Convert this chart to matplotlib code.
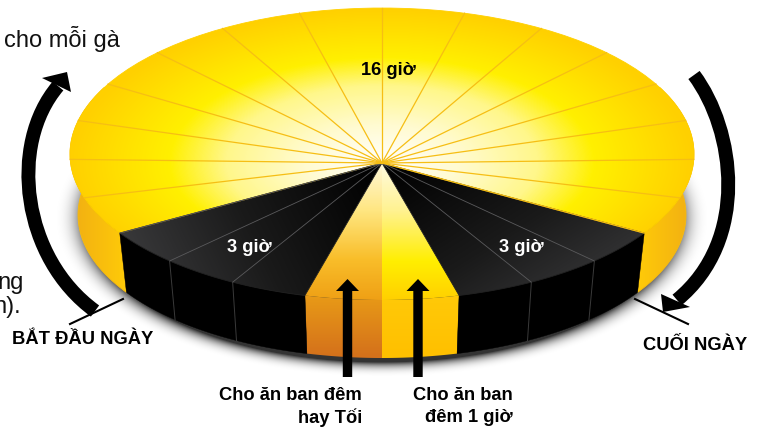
import numpy as np
import matplotlib
matplotlib.use('Agg')
import matplotlib.pyplot as plt
from matplotlib.colors import LinearSegmentedColormap
from matplotlib.patches import Polygon, PathPatch
from matplotlib.path import Path

plt.rcParams['font.family'] = ['Liberation Sans', 'DejaVu Sans']

# Số giờ của từng phần, bắt đầu từ mép trái
period_names = ['Tối 1', 'Ăn đêm 1', 'Ăn đêm 2', 'Tối 2', 'Sáng']
period_hours = [3, 1, 1, 3, 16]
period_labels = ['3 giờ', '', '', '3 giờ', '16 giờ']
arrow_labels = ['Cho ăn ban đêm\nhay Tối', 'Cho ăn ban\nđêm 1 giờ']
day_labels = ['BẮT ĐẦU NGÀY', 'CUỐI NGÀY']

W, H = 763, 428

# Hình học của bánh (toạ độ pixel)
cx = 382
top_cy, top_a, top_b = 154, 312, 146
bot_cy, bot_a, bot_b = 215, 304, 143
apex = (382, 163)
front_step = 14.3   # độ mỗi giờ ở phần trước
back_step = 15.35   # độ mỗi giờ ở phần sau


def hour_angle(h):
    front = sum(period_hours[:4])
    start = -front * front_step / 2
    if h <= front:
        return start + h * front_step
    return start + front * front_step + (h - front) * back_step


def top_rim(t):
    t = np.radians(t)
    return np.c_[cx + top_a * np.sin(t), top_cy + top_b * np.cos(t)]


def bot_rim(t):
    t = np.radians(t)
    return np.c_[cx + bot_a * np.sin(t), bot_cy + bot_b * np.cos(t)]


def wedge(t0, t1):
    rim = top_rim(np.linspace(t0, t1, 80))
    return np.vstack([[apex], rim])


def side(t0, t1):
    ts = np.linspace(t0, t1, 80)
    return np.vstack([top_rim(ts), bot_rim(ts[::-1])])


fig = plt.figure(figsize=(W / 100, H / 100), dpi=100)
ax = fig.add_axes([0, 0, 1, 1])
ax.set_axis_off()

X, Y = np.meshgrid(np.arange(W) + 0.5, np.arange(H) + 0.5)
dx = (X - apex[0]) / top_a
dy = np.where(Y < apex[1], (Y - apex[1]) / 155, (Y - apex[1]) / 137)
R = np.sqrt(dx ** 2 + dy ** 2)


def cmap(*colors):
    return LinearSegmentedColormap.from_list('c', list(colors))


def fill(values, cm, pts, z, edge=None):
    poly = Polygon(pts, closed=True, transform=ax.transData, fc='none', ec='none')
    ax.add_patch(poly)
    im = ax.imshow(values, cmap=cm, vmin=0, vmax=1, extent=(0, W, H, 0),
                   aspect='auto', zorder=z, interpolation='bilinear')
    im.set_clip_path(poly)
    if edge:
        ax.add_patch(Polygon(pts, closed=True, fc='none', ec=edge, lw=0.6, zorder=z + 0.1))


# Bóng dưới bánh
sr = np.sqrt(((X - cx) / (bot_a - 8)) ** 2 + ((Y - (bot_cy + 3)) / (bot_b + 1)) ** 2)
alpha = np.clip((1.12 - sr) / 0.12, 0, 1) ** 3 * 0.8
shadow = np.zeros((H, W, 4))
shadow[..., 3] = alpha
ax.imshow(shadow, extent=(0, W, H, 0), aspect='auto', zorder=1)

edges = np.cumsum([0] + period_hours)
angles = [hour_angle(h) for h in edges]

# Mặt bên
rim_cm = cmap('#FFCB08', '#F0AC14')
side_grad = np.clip((np.abs(X - cx) - 255) / 60, 0, 1)
fill(side_grad, rim_cm, side(angles[4], angles[4] + 60), 2, '#F8BC10')
fill(side_grad, rim_cm, side(angles[0], angles[0] - 60), 2, '#F8BC10')
fill(np.clip((Y - 296) / 60, 0, 1), cmap('#E89A17', '#D4711B'), side(angles[1], angles[2]), 3)
fill(np.clip((Y - 296) / 60, 0, 1), cmap('#FFC908', '#FFC000'), side(angles[2], angles[3]), 3)
ax.add_patch(Polygon(side(angles[0], angles[1]), closed=True, fc='black', ec='black', lw=0.3, zorder=3))
ax.add_patch(Polygon(side(angles[3], angles[4]), closed=True, fc='black', ec='black', lw=0.3, zorder=3))

# Mặt trên
light_cm = LinearSegmentedColormap.from_list('light', [
    (0.0, '#FFFFFF'), (0.25, '#FFFBD0'), (0.5, '#FFF78A'),
    (0.68, '#FFF000'), (1.0, '#FFD000')])
fill(np.clip(R, 0, 1), light_cm, wedge(angles[4], angles[5]), 4, '#FFD000')

dark_cm = cmap('#000000', '#1A1A1A', '#404042')
yn = np.clip(Y - apex[1], 0, None) / 137
dark_left = np.clip(np.abs(X - apex[0]) / 262 * 0.8 + yn * 0.2, 0, 1)
dark_right = np.clip(np.abs(X - apex[0]) / 262 * 0.55 + yn * 0.45, 0, 1)
fill(dark_left, dark_cm, wedge(angles[0], angles[1]), 4, '#202020')
fill(dark_right, dark_cm, wedge(angles[3], angles[4]), 4, '#202020')

feed_t = np.clip((Y - apex[1]) / 137, 0, 1)
fill(feed_t, LinearSegmentedColormap.from_list('f1', [
    (0, '#FFF8D8'), (0.35, '#FFE680'), (0.7, '#F9BE2A'), (1, '#EFA015')]),
    wedge(angles[1], angles[2]), 4)
fill(feed_t, LinearSegmentedColormap.from_list('f2', [
    (0, '#FFFBE0'), (0.35, '#FFF290'), (0.72, '#FFEE00'), (1, '#FFD000')]),
    wedge(angles[2], angles[3]), 4)

# Các vạch giờ
for h in range(sum(period_hours)):
    if edges[4] <= h:
        color, lw = '#F6BE14', 0.9
    elif h < edges[1] or edges[3] < h < edges[4]:
        color, lw = '#5A5A5C', 0.6
    else:
        continue
    p = top_rim(hour_angle(h))[0]
    ax.plot([apex[0], p[0]], [apex[1], p[1]], color=color, lw=lw, zorder=5)
    if color == '#5A5A5C' and h not in (edges[0],):
        q = bot_rim(hour_angle(h))[0]
        ax.plot([p[0], q[0]], [p[1], q[1]], color='#3A3A3A', lw=0.7, zorder=5)

# Mũi tên cong
left_curve = Path([(95, 311), (22, 258), (8, 145), (58, 86)],
                  [Path.MOVETO, Path.CURVE4, Path.CURVE4, Path.CURVE4])
right_curve = Path([(694, 75), (735, 130), (750, 240), (677, 300)],
                   [Path.MOVETO, Path.CURVE4, Path.CURVE4, Path.CURVE4])
for path in (left_curve, right_curve):
    ax.add_patch(PathPatch(path, fc='none', ec='black', lw=10, capstyle='butt', zorder=6))
ax.add_patch(Polygon([(67, 72), (42, 78), (71, 92)], fc='black', ec='none', zorder=6))
ax.add_patch(Polygon([(661, 294), (690, 307), (663, 312)], fc='black', ec='none', zorder=6))
ax.plot([70, 123], [324, 299], color='black', lw=1.5, zorder=6)
ax.plot([635, 688], [299, 324], color='black', lw=1.5, zorder=6)

# Mũi tên thẳng
for xc in (347.5, 418):
    ax.add_patch(Polygon([(xc - 4.7, 377), (xc + 4.7, 377), (xc + 4.7, 291), (xc + 11.5, 291),
                          (xc, 279), (xc - 11.5, 291), (xc - 4.7, 291)],
                         fc='black', ec='none', zorder=7))

# Chữ
bold = dict(fontweight='bold', fontsize=13.2, zorder=8)
ax.text(388, 70, period_labels[4], ha='center', va='center', color='black', **bold)
ax.text(249, 247, period_labels[0], ha='center', va='center', color='white', **bold)
ax.text(521, 247, period_labels[3], ha='center', va='center', color='white', **bold)
ax.text(83, 340, day_labels[0], ha='center', va='center', color='black', **bold)
ax.text(695, 346, day_labels[1], ha='center', va='center', color='black', **bold)
for (line, xr) in zip(arrow_labels, (362, 513)):
    a, b = line.split('\n')
    ax.text(xr, 395, a, ha='right', va='center', color='black', **bold)
    ax.text(xr, 418, b, ha='right', va='center', color='black', **bold)
ax.text(120, 39, 'cho mỗi gà', ha='right', va='center', fontsize=17, color='#111111', zorder=8)
ax.text(24, 283, 'ng', ha='right', va='center', fontsize=17, color='#111111', zorder=8)
ax.text(21, 307, 'n).', ha='right', va='center', fontsize=17, color='#111111', zorder=8)

ax.set_xlim(0, W)
ax.set_ylim(H, 0)
fig.savefig('out.png', dpi=100, facecolor='white')
